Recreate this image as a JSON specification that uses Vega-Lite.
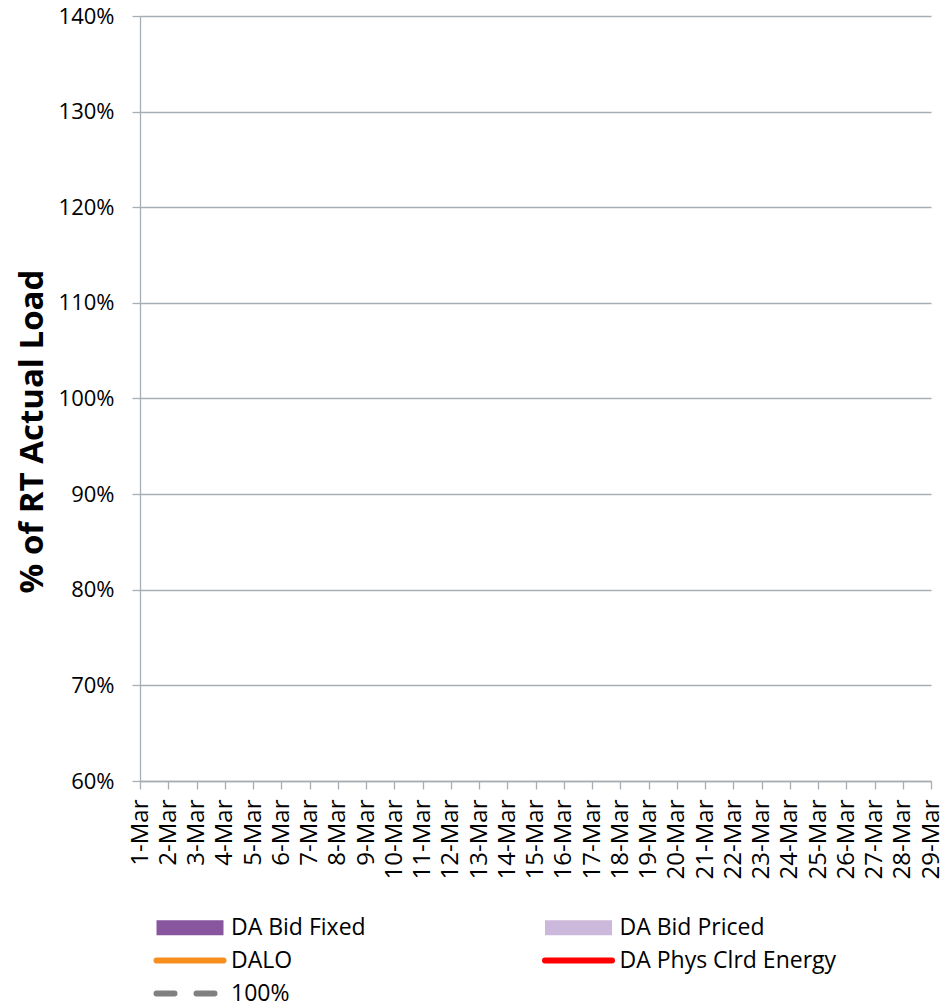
{
  "$schema": "https://vega.github.io/schema/vega-lite/v6.json",
  "autosize": "none",
  "width": 791,
  "height": 765,
  "padding": {"left": 140, "top": 16, "right": 14, "bottom": 222},
  "background": "white",
  "config": {
    "view": {"stroke": null},
    "font": "Open Sans"
  },
  "data": {
    "values": [
      {"date": "1-Mar", "fixed": null, "priced": null, "dalo": null, "phys": null, "ref": null},
      {"date": "2-Mar", "fixed": null, "priced": null, "dalo": null, "phys": null, "ref": null},
      {"date": "3-Mar", "fixed": null, "priced": null, "dalo": null, "phys": null, "ref": null},
      {"date": "4-Mar", "fixed": null, "priced": null, "dalo": null, "phys": null, "ref": null},
      {"date": "5-Mar", "fixed": null, "priced": null, "dalo": null, "phys": null, "ref": null},
      {"date": "6-Mar", "fixed": null, "priced": null, "dalo": null, "phys": null, "ref": null},
      {"date": "7-Mar", "fixed": null, "priced": null, "dalo": null, "phys": null, "ref": null},
      {"date": "8-Mar", "fixed": null, "priced": null, "dalo": null, "phys": null, "ref": null},
      {"date": "9-Mar", "fixed": null, "priced": null, "dalo": null, "phys": null, "ref": null},
      {"date": "10-Mar", "fixed": null, "priced": null, "dalo": null, "phys": null, "ref": null},
      {"date": "11-Mar", "fixed": null, "priced": null, "dalo": null, "phys": null, "ref": null},
      {"date": "12-Mar", "fixed": null, "priced": null, "dalo": null, "phys": null, "ref": null},
      {"date": "13-Mar", "fixed": null, "priced": null, "dalo": null, "phys": null, "ref": null},
      {"date": "14-Mar", "fixed": null, "priced": null, "dalo": null, "phys": null, "ref": null},
      {"date": "15-Mar", "fixed": null, "priced": null, "dalo": null, "phys": null, "ref": null},
      {"date": "16-Mar", "fixed": null, "priced": null, "dalo": null, "phys": null, "ref": null},
      {"date": "17-Mar", "fixed": null, "priced": null, "dalo": null, "phys": null, "ref": null},
      {"date": "18-Mar", "fixed": null, "priced": null, "dalo": null, "phys": null, "ref": null},
      {"date": "19-Mar", "fixed": null, "priced": null, "dalo": null, "phys": null, "ref": null},
      {"date": "20-Mar", "fixed": null, "priced": null, "dalo": null, "phys": null, "ref": null},
      {"date": "21-Mar", "fixed": null, "priced": null, "dalo": null, "phys": null, "ref": null},
      {"date": "22-Mar", "fixed": null, "priced": null, "dalo": null, "phys": null, "ref": null},
      {"date": "23-Mar", "fixed": null, "priced": null, "dalo": null, "phys": null, "ref": null},
      {"date": "24-Mar", "fixed": null, "priced": null, "dalo": null, "phys": null, "ref": null},
      {"date": "25-Mar", "fixed": null, "priced": null, "dalo": null, "phys": null, "ref": null},
      {"date": "26-Mar", "fixed": null, "priced": null, "dalo": null, "phys": null, "ref": null},
      {"date": "27-Mar", "fixed": null, "priced": null, "dalo": null, "phys": null, "ref": null},
      {"date": "28-Mar", "fixed": null, "priced": null, "dalo": null, "phys": null, "ref": null},
      {"date": "29-Mar", "fixed": null, "priced": null, "dalo": null, "phys": null, "ref": null}
    ]
  },
  "transform": [
    {"fold": ["fixed", "priced", "dalo", "phys", "ref"], "as": ["key", "pct"]},
    {"lookup": "key", "from": {"data": {"values": [
      {"key": "fixed", "series": "DA Bid Fixed"},
      {"key": "priced", "series": "DA Bid Priced"},
      {"key": "dalo", "series": "DALO"},
      {"key": "phys", "series": "DA Phys Clrd Energy"},
      {"key": "ref", "series": "100%"}
    ]}, "key": "key", "fields": ["series"]}}
  ],
  "encoding": {
    "x": {
      "field": "date",
      "type": "ordinal",
      "sort": null,
      "scale": {"type": "point", "padding": 0},
      "axis": {
        "title": null,
        "labelAngle": 270,
        "labelFont": "Open Sans",
        "labelFontSize": 24,
        "labelColor": "#000000",
        "labelPadding": 10,
        "tickSize": 8,
        "tickColor": "#A6AEB5",
        "domainColor": "#A6AEB5",
        "tickWidth": 1.3,
        "domainWidth": 1.3,
        "grid": false
      }
    },
    "y": {
      "field": "pct",
      "type": "quantitative",
      "scale": {"domain": [0.6, 1.4], "nice": false, "zero": false},
      "axis": {
        "values": [0.6, 0.7, 0.8, 0.9, 1.0, 1.1, 1.2, 1.3, 1.4],
        "format": ".0%",
        "title": "% of RT Actual Load",
        "titleFont": "Open Sans",
        "titleFontSize": 33,
        "titleFontWeight": "bold",
        "titleColor": "#000000",
        "titleX": -98,
        "titleY": 415,
        "titleBaseline": "alphabetic",
        "titleAlign": "center",
        "titleAngle": 270,
        "labelFont": "Open Sans",
        "labelFontSize": 22,
        "labelColor": "#000000",
        "labelPadding": 18,
        "tickSize": 8,
        "tickColor": "#A6AEB5",
        "domainColor": "#A6AEB5",
        "gridColor": "#A6AEB5",
        "tickWidth": 1.3,
        "domainWidth": 1.3,
        "gridWidth": 1.3,
        "grid": true
      }
    },
    "color": {
      "field": "series",
      "type": "nominal",
      "scale": {
        "domain": ["DA Bid Fixed", "DA Bid Priced", "DALO", "DA Phys Clrd Energy", "100%"],
        "range": ["#87569F", "#CCB8DA", "#F78F1E", "#FF0000", "#808080"]
      },
      "legend": {
        "title": null,
        "orient": "none",
        "direction": "horizontal",
        "legendX": 38.5,
        "legendY": 900,
        "columns": 2,
        "columnPadding": 175.5,
        "rowPadding": 9,
        "padding": 0,
        "symbolSize": 400,
        "labelOffset": 29.5,
        "labelFont": "Open Sans",
        "labelFontSize": 23,
        "labelColor": "#000000",
        "labelLimit": 400,
        "encode": {
          "symbols": {
            "update": {
              "shape": {"signal": "(datum.value === 'DA Bid Fixed' || datum.value === 'DA Bid Priced') ? 'M-3.35,-0.75H3.35V0.75H-3.35Z' : datum.value === '100%' ? 'M-3.35,-0.3H-1.55Q-1.25,-0.3 -1.25,0Q-1.25,0.3 -1.55,0.3H-3.35Q-3.65,0.3 -3.65,0Q-3.65,-0.3 -3.35,-0.3Z M0.65,-0.3H2.45Q2.75,-0.3 2.75,0Q2.75,0.3 2.45,0.3H0.65Q0.35,0.3 0.35,0Q0.35,-0.3 0.65,-0.3Z' : 'M-3.35,-0.3H3.35Q3.65,-0.3 3.65,0Q3.65,0.3 3.35,0.3H-3.35Q-3.65,0.3 -3.65,0Q-3.65,-0.3 -3.35,-0.3Z'"},
              "fill": {"scale": "color", "field": "value"},
              "stroke": {"value": "transparent"},
              "strokeWidth": {"value": 0},
              "opacity": {"value": 1}
            }
          }
        }
      }
    }
  },
  "layer": [
    {
      "transform": [{"filter": {"field": "series", "oneOf": ["DA Bid Fixed", "DA Bid Priced"]}}],
      "mark": {"type": "bar", "size": 18}
    },
    {
      "transform": [{"filter": {"field": "series", "oneOf": ["DALO", "DA Phys Clrd Energy"]}}],
      "mark": {"type": "line", "strokeWidth": 4}
    },
    {
      "transform": [{"filter": {"field": "series", "equal": "100%"}}],
      "mark": {"type": "line", "strokeWidth": 4, "strokeDash": [10, 8]}
    }
  ]
}
